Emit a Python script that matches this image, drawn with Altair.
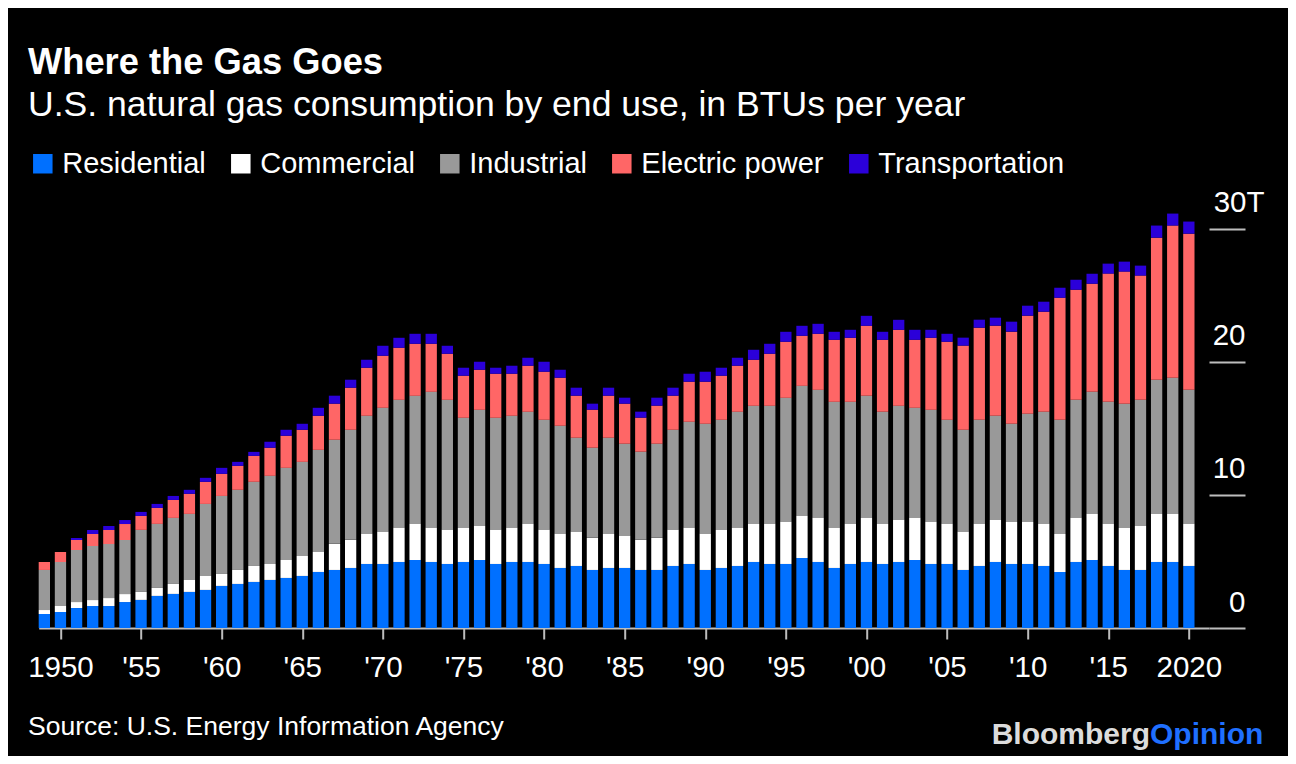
import altair as alt
import pandas as pd

years = list(range(1949, 2021))

residential = [1.05, 1.20, 1.50, 1.65, 1.65, 1.95, 2.11, 2.41, 2.56, 2.71, 2.86,
               3.16, 3.31, 3.46, 3.61, 3.76, 3.91, 4.21, 4.36, 4.51, 4.81,
               4.81, 4.96, 5.11, 4.96, 4.81, 4.96, 5.11, 4.81, 4.96, 4.96,
               4.81, 4.51, 4.66, 4.36, 4.51, 4.51, 4.36, 4.36, 4.66, 4.81,
               4.36, 4.51, 4.66, 4.96, 4.81, 4.81, 5.26, 4.96, 4.51, 4.81,
               4.96, 4.81, 4.96, 5.11, 4.81, 4.81, 4.36, 4.66, 4.96, 4.81,
               4.81, 4.66, 4.21, 4.96, 5.11, 4.66, 4.36, 4.36, 4.96, 4.96,
               4.66]
commercial = [0.30, 0.45, 0.45, 0.45, 0.60, 0.60, 0.60, 0.60, 0.75, 0.90, 1.05,
              0.90, 1.05, 1.20, 1.20, 1.35, 1.50, 1.50, 1.96, 2.11, 2.26,
              2.41, 2.56, 2.71, 2.56, 2.56, 2.56, 2.56, 2.56, 2.56, 2.86,
              2.56, 2.56, 2.56, 2.41, 2.56, 2.41, 2.26, 2.41, 2.71, 2.71,
              2.71, 2.86, 2.86, 2.86, 3.01, 3.16, 3.16, 3.31, 3.01, 3.01,
              3.31, 3.01, 3.16, 3.16, 3.16, 3.01, 2.86, 3.16, 3.16, 3.16,
              3.16, 3.16, 2.86, 3.31, 3.46, 3.16, 3.16, 3.31, 3.61, 3.61,
              3.16]
industrial = [3.01, 3.31, 3.91, 4.06, 4.06, 4.06, 4.66, 4.81, 4.96, 4.96, 5.41,
              5.86, 6.02, 6.32, 6.62, 6.92, 7.07, 7.67, 7.82, 8.27, 8.87,
              9.32, 9.62, 9.62, 10.22, 9.77, 8.27, 8.72, 8.42, 8.42, 8.42,
              8.27, 8.12, 7.07, 6.77, 7.22, 6.92, 6.62, 7.07, 7.52, 7.97,
              8.27, 8.27, 8.72, 8.87, 8.87, 9.32, 9.77, 9.62, 9.47, 9.17,
              9.17, 8.42, 8.57, 8.27, 8.42, 7.82, 7.67, 7.82, 7.82, 7.37,
              8.12, 8.42, 8.57, 8.87, 9.17, 9.17, 9.32, 9.47, 10.08, 10.23,
              10.07]
electric = [0.60, 0.75, 0.75, 0.90, 1.05, 1.20, 1.05, 1.20, 1.35, 1.51, 1.66,
            1.66, 1.80, 1.95, 2.11, 2.41, 2.41, 2.56, 2.71, 3.16, 3.61,
            3.91, 3.91, 3.91, 3.61, 3.46, 3.16, 3.01, 3.31, 3.16, 3.46,
            3.61, 3.61, 3.16, 2.86, 3.16, 3.01, 2.56, 2.86, 2.56, 3.01,
            3.16, 3.31, 3.46, 3.46, 3.91, 4.21, 3.76, 4.21, 4.66, 4.81,
            5.26, 5.41, 5.71, 5.11, 5.41, 5.86, 6.32, 6.92, 6.77, 6.92,
            7.37, 7.52, 9.17, 8.27, 8.12, 9.63, 9.93, 9.33, 10.67, 11.43,
            11.73]
transportation = [0.0, 0.0, 0.15, 0.30, 0.30, 0.30, 0.30, 0.30, 0.30, 0.30, 0.30,
                  0.45, 0.30, 0.30, 0.45, 0.45, 0.45, 0.60, 0.60, 0.60, 0.60,
                  0.75, 0.75, 0.75, 0.75, 0.60, 0.60, 0.60, 0.45, 0.60, 0.60,
                  0.75, 0.60, 0.60, 0.45, 0.60, 0.45, 0.45, 0.60, 0.60, 0.60,
                  0.75, 0.60, 0.60, 0.75, 0.75, 0.75, 0.75, 0.75, 0.60, 0.60,
                  0.75, 0.60, 0.75, 0.75, 0.60, 0.60, 0.60, 0.60, 0.60, 0.75,
                  0.75, 0.75, 0.75, 0.75, 0.75, 0.75, 0.75, 0.75, 0.91, 0.90,
                  0.91]

sectors = ["Residential", "Commercial", "Industrial", "Electric power", "Transportation"]
colors = ["#0070ff", "#ffffff", "#999999", "#ff6666", "#2b00d9"]
series = [residential, commercial, industrial, electric, transportation]

x_ticks = list(range(1950, 2021, 5))
y_ticks = [0, 10, 20, 30]

title_text = "Where the Gas Goes"
subtitle_text = "U.S. natural gas consumption by end use, in BTUs per year"
source_text = "Source: U.S. Energy Information Agency"

rows = []
for i, yr in enumerate(years):
    for k, (s, vals) in enumerate(zip(sectors, series)):
        rows.append({"year": yr, "sector": s, "value": vals[i], "order": k})
df = pd.DataFrame(rows)

FONT = "Liberation Sans"
AXIS_GREY = "#bdbdbd"
W = 1170.3
H = 426

x_label_expr = ("datum.value == 1950 || datum.value == 2020 ? toString(datum.value) : "
                "\"'\" + substring(toString(datum.value), 2)")

bars = alt.Chart(df).mark_bar(width=11.3).encode(
    x=alt.X(
        "year:Q",
        scale=alt.Scale(domain=[1948.65, 2021.25], nice=False, zero=False, padding=0),
        axis=alt.Axis(
            values=x_ticks, labelExpr=x_label_expr, title=None, grid=False,
            domainColor=AXIS_GREY, domainWidth=2, tickColor=AXIS_GREY, tickWidth=2,
            tickSize=11, labelColor="white", labelFont=FONT, labelFontSize=29.5,
            labelPadding=14, labelFlush=False, labelOverlap=False,
        ),
    ),
    y=alt.Y(
        "value:Q",
        stack="zero",
        scale=alt.Scale(domain=[0, 32], nice=False),
        axis=alt.Axis(
            orient="right", values=y_ticks,
            labelExpr="datum.value == 30 ? '30T' : datum.label",
            title=None, grid=False, domain=False, tickColor=AXIS_GREY, tickWidth=2,
            tickSize=36, labelAlign="right", labelBaseline="alphabetic", labelOffset=-17,
            labelPadding={"condition": {"test": "datum.value == 30", "value": 19}, "value": 0},
            labelColor="white", labelFont=FONT, labelFontSize=29.5,
        ),
    ),
    color=alt.Color(
        "sector:N",
        scale=alt.Scale(domain=sectors, range=colors),
        legend=alt.Legend(
            orient="none", legendX=-10.4, legendY=-53, direction="horizontal", title=None,
            symbolType="square", symbolSize=380, symbolStrokeWidth=0,
            labelFont=FONT, labelFontSize=29, labelColor="white", labelOffset=5,
            columnPadding=20, padding=0, labelLimit=400,
        ),
    ),
    order=alt.Order("order:Q", sort="ascending"),
)

source = alt.Chart(pd.DataFrame({"t": [source_text]})).mark_text(
    align="left", baseline="alphabetic", font=FONT, fontSize=26.5, color="white"
).encode(text="t:N", x=alt.value(-10.7), y=alt.value(533))

logo1 = alt.Chart(pd.DataFrame({"t": ["Bloomberg"]})).mark_text(
    align="right", baseline="alphabetic", font=FONT, fontSize=30, fontWeight="bold", color="#dcdcdc"
).encode(text="t:N", x=alt.value(1111.3), y=alt.value(542))

logo2 = alt.Chart(pd.DataFrame({"t": ["Opinion"]})).mark_text(
    align="left", baseline="alphabetic", font=FONT, fontSize=30, fontWeight="bold", color="#1f6fff"
).encode(text="t:N", x=alt.value(1111.3), y=alt.value(542))

chart = alt.layer(bars, source, logo1, logo2).properties(
    width=W,
    height=H,
    padding={"left": 30.7, "top": 194, "right": 79, "bottom": 128},
    autosize=alt.AutoSizeParams(type="none"),
    title=alt.TitleParams(
        text=title_text, subtitle=subtitle_text, anchor="start", frame="group",
        font=FONT, fontSize=36.3, fontWeight="bold", color="white",
        subtitleFont=FONT, subtitleFontSize=35.6, subtitleColor="white",
        subtitlePadding=7, offset=25, dx=-10.7,
    ),
).configure(background="black").configure_view(stroke=None)

chart.save("out.html", embed_options={"renderer": "svg", "actions": False})
